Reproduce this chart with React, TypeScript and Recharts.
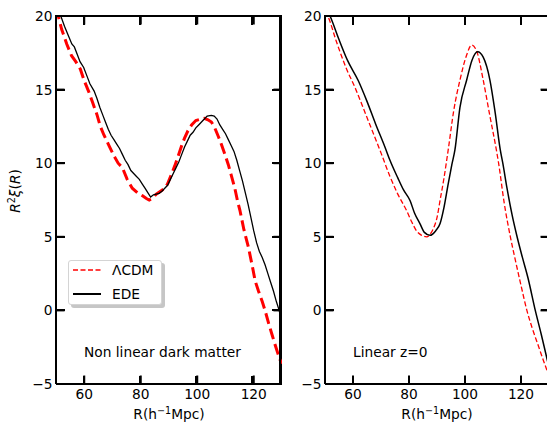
import React from "react";
import { LineChart, Line, XAxis, YAxis, Legend, Label, ReferenceLine } from "recharts";

type Pt = { x: number; y: number };

const xTicks = [60, 80, 100, 120];
const yTicks = [-5, 0, 5, 10, 15, 20];
const xDomain = [50, 130];
const yDomain = [-5, 20];
const seriesOrder = ["\u039bCDM", "EDE"];

// non linear dark matter panel
const nlEdeX = [50, 51.7, 53, 54.5, 55.6, 56.5, 57.5, 58.5, 59.8, 60.8, 62, 63.5, 64.5, 65.5, 66.5, 67.5, 68.5, 69.5, 70.5, 71.5, 72.5, 73.5, 74.5, 75.5, 76.5, 77.5, 78.5, 79.5, 80.5, 81.5, 82.5, 83.5, 84.5, 85.5, 86.5, 87.5, 88.5, 89.5, 90.5, 91.5, 92.5, 93.5, 94.5, 95.5, 96.5, 97.5, 98.5, 99.5, 100.5, 101.5, 102.5, 103.5, 105, 106, 107, 108, 109, 110, 111, 112, 113, 114, 115, 116, 117, 118, 119, 120, 121, 122, 123, 124, 125, 126, 127, 128, 129, 130];
const nlEdeY = [21.0, 20.0, 19.3, 18.6, 18.1, 17.9, 17.4, 16.9, 16.5, 16.0, 15.4, 14.9, 14.4, 13.8, 13.3, 12.8, 12.3, 11.9, 11.6, 11.3, 11.0, 10.6, 10.2, 9.9, 9.5, 9.3, 9.1, 8.9, 8.6, 8.3, 8.0, 7.7, 7.85, 7.9, 7.95, 8.1, 8.3, 8.5, 8.9, 9.3, 9.7, 10.1, 10.6, 11.1, 11.5, 11.9, 12.1, 12.4, 12.6, 12.8, 13.0, 13.2, 13.25, 13.2, 13.0, 12.6, 12.3, 12.0, 11.6, 11.2, 10.8, 10.2, 9.5, 8.8, 8.0, 7.2, 6.3, 5.4, 4.6, 4.0, 3.6, 3.1, 2.5, 1.9, 1.3, 0.6, 0.0, -0.9];

const nlLcdmX = [50, 50.8, 52, 53.8, 55.5, 57, 58.6, 60, 61.5, 63, 64.5, 65.7, 67, 68.5, 70.5, 72, 73.5, 75.2, 77, 78.8, 80.5, 82, 83, 84, 85.5, 87, 88.5, 89.5, 91, 92, 93.1, 94.5, 95.5, 96.7, 98, 99.5, 101.4, 102.5, 103.8, 105, 106.2, 107.5, 108.5, 109.8, 111, 112, 113.3, 114.3, 115.1, 116.5, 118.1, 119.5, 120.5, 121.7, 123, 124, 125.3, 126.4, 127.5, 128.5, 129.4, 130];
const nlLcdmY = [20.5, 20.0, 19.1, 18.1, 17.3, 16.9, 16.4, 15.6, 14.9, 14.1, 13.3, 12.5, 11.9, 11.3, 10.5, 10.0, 9.7, 8.9, 8.3, 8.0, 7.8, 7.6, 7.5, 7.6, 7.9, 8.1, 8.3, 8.6, 9.3, 9.8, 10.4, 11.2, 11.7, 12.2, 12.6, 12.9, 13.0, 13.05, 12.95, 12.8, 12.4, 11.8, 11.3, 10.6, 9.9, 9.2, 8.3, 7.4, 6.8, 5.5, 4.3, 3.0, 2.0, 1.3, 0.6, 0.0, -0.9, -1.6, -2.3, -2.9, -3.4, -3.6];

// linear z=0 panel
const linEdeX = [50, 51.8, 55, 58, 61.9, 65, 68, 71.4, 73.2, 76, 78, 80.4, 82, 83.9, 85.5, 87.5, 89.5, 91.1, 92.5, 94, 95.3, 96.4, 98.2, 100.6, 102.5, 104.5, 106.5, 108.9, 110.8, 112.6, 113.5, 115, 116.8, 118.6, 120.5, 122.5, 125.1, 127.2, 129.3, 130];
const linEdeY = [20.7, 20.0, 18.4, 17.0, 15.6, 14.2, 12.7, 11.1, 10.2, 9.0, 8.2, 7.45, 6.6, 5.9, 5.3, 5.1, 5.4, 5.9, 7.0, 8.6, 9.9, 10.9, 13.8, 15.65, 17.0, 17.57, 17.2, 15.65, 13.4, 10.9, 10.0, 8.3, 6.5, 5.0, 3.6, 2.2, 0.0, -1.6, -3.3, -3.85];

const linLcdmX = [50, 51.2, 54, 57.7, 60.7, 64.9, 70.2, 73.2, 76, 79.2, 81, 82.7, 84.5, 86.3, 88, 88.7, 90, 91.1, 92.5, 94, 96, 98.2, 100.5, 102.4, 104.2, 106.5, 108.8, 111.2, 112, 114, 116.2, 118, 120, 122.1, 124, 126, 128, 129.3, 130];
const linLcdmY = [20.3, 19.9, 18.3, 16.4, 15.15, 13.15, 10.6, 9.1, 7.9, 6.76, 6.0, 5.4, 5.1, 5.0, 5.3, 5.56, 6.3, 7.48, 9.0, 10.9, 13.6, 15.65, 17.3, 18.03, 17.6, 15.65, 13.3, 10.9, 10.0, 7.3, 5.0, 3.4, 1.7, 0.0, -1.2, -2.3, -3.4, -4.08, -4.45];

const toPts = (xs: number[], ys: number[]): Pt[] => xs.map((x, i) => ({ x, y: ys[i] }));

const fmt = (v: number) => (v < 0 ? "\u2212" + Math.abs(v) : String(v));

const AX = "#000";
const FS = 13.75;
const PLOT_TOP = 16;
const PLOT_W = 224;
const PLOT_H = 368;
const Y_AXIS_W = 56;
const TICK_PX = 8.5;
const FRAME_W = 2;
const panelLefts = [0, 269];
// inward tick length in axis units
const tickDx = (TICK_PX * (xDomain[1] - xDomain[0])) / PLOT_W;
const tickDy = (TICK_PX * (yDomain[1] - yDomain[0])) / PLOT_H;

const bottomTick = ({ x, y, payload }: any) => (
  <text x={x} y={y + 15} textAnchor="middle" fontSize={FS} fill="#000">
    {fmt(payload.value)}
  </text>
);

const leftTick = ({ x, y, payload }: any) => (
  <text x={x - 3.5} y={y} dy={5} textAnchor="end" fontSize={FS} fill="#000">
    {fmt(payload.value)}
  </text>
);

function XLabel({ viewBox }: any) {
  const cx = viewBox.x + viewBox.width / 2;
  const cy = viewBox.y + 35;
  return (
    <text x={cx} y={cy} textAnchor="middle" fontSize={FS} fill="#000">
      R(h<tspan dy={-5.5} fontSize={9.6}>{"\u22121"}</tspan>
      <tspan dy={5.5}>Mpc)</tspan>
    </text>
  );
}

function YLabel({ viewBox }: any) {
  const cx = viewBox.x + 20;
  const cy = viewBox.y + viewBox.height / 2 - 9;
  return (
    <text
      x={cx}
      y={cy}
      textAnchor="middle"
      fontSize={FS}
      fill="#000"
      transform={`rotate(-90, ${cx}, ${cy})`}
    >
      <tspan fontStyle="italic">R</tspan>
      <tspan dy={-5.5} fontSize={9.6}>2</tspan>
      <tspan dy={5.5} fontStyle="italic">{"\u03be"}</tspan>
      <tspan>(</tspan>
      <tspan fontStyle="italic">R</tspan>
      <tspan>)</tspan>
    </text>
  );
}

const legendStyle: Record<string, { dash?: string; width: number }> = {
  "\u039bCDM": { dash: "5 2.5", width: 1.5 },
  EDE: { width: 2 },
};

function LegendBox({ payload }: any) {
  const items = [...(payload || [])].sort(
    (a: any, b: any) => seriesOrder.indexOf(a.value) - seriesOrder.indexOf(b.value)
  );
  return (
    <div
      style={{
        width: 94,
        height: 45,
        boxSizing: "border-box",
        border: "1px solid #d4d4d4",
        borderRadius: 3,
        background: "#fff",
        boxShadow: "3px 3px 0 #c6c6c6",
      }}
    >
      <svg width={92} height={43} style={{ display: "block" }}>
        {items.map((e: any, i: number) => {
          const st = legendStyle[e.value] || { width: 1.5 };
          const y = 9 + 24 * i;
          return (
            <g key={e.value}>
              <line x1={4} x2={32} y1={y} y2={y} stroke={e.color} strokeWidth={st.width} strokeDasharray={st.dash} />
              <text x={43} y={y + 5} fontSize={FS} fill="#000">
                {e.value}
              </text>
            </g>
          );
        })}
      </svg>
    </div>
  );
}

// inward ticks on all four sides plus top/right frame, as reference segments
function frameMarks() {
  const segs: any[] = [
    [{ x: xDomain[0], y: yDomain[1] }, { x: xDomain[1], y: yDomain[1] }],
    [{ x: xDomain[1], y: yDomain[0] }, { x: xDomain[1], y: yDomain[1] }],
  ];
  xTicks.forEach((t) => {
    segs.push([{ x: t, y: yDomain[0] }, { x: t, y: yDomain[0] + tickDy }]);
    segs.push([{ x: t, y: yDomain[1] }, { x: t, y: yDomain[1] - tickDy }]);
  });
  yTicks.forEach((t) => {
    segs.push([{ x: xDomain[0], y: t }, { x: xDomain[0] + tickDx, y: t }]);
    segs.push([{ x: xDomain[1], y: t }, { x: xDomain[1] - tickDx, y: t }]);
  });
  return segs.map((s, i) => (
    <ReferenceLine
      key={"tk" + i}
      xAxisId="b"
      yAxisId="l"
      segment={s}
      stroke={AX}
      strokeWidth={FRAME_W}
      ifOverflow="visible"
    />
  ));
}

// frame and ticks again as plain boxes laid over both panels
function FrameBoxes() {
  const sx = (v: number) => ((v - xDomain[0]) / (xDomain[1] - xDomain[0])) * PLOT_W;
  const sy = (v: number) => PLOT_TOP + ((yDomain[1] - v) / (yDomain[1] - yDomain[0])) * PLOT_H;
  const bottom = PLOT_TOP + PLOT_H;
  const box = (key: string, left: number, top: number, w: number, h: number) => (
    <div key={key} style={{ position: "absolute", left, top, width: w, height: h, background: AX }} />
  );
  const out: any[] = [];
  panelLefts.forEach((pl) => {
    const x0 = pl + Y_AXIS_W;
    const x1 = x0 + PLOT_W;
    out.push(box(`t${pl}`, x0 - 1, PLOT_TOP - 1, PLOT_W + 2, FRAME_W));
    out.push(box(`r${pl}`, x1 - 1, PLOT_TOP - 1, FRAME_W, PLOT_H + 2));
    xTicks.forEach((t) => {
      out.push(box(`xb${pl}${t}`, x0 + sx(t) - 1, bottom - TICK_PX, FRAME_W, TICK_PX));
      out.push(box(`xt${pl}${t}`, x0 + sx(t) - 1, PLOT_TOP, FRAME_W, TICK_PX));
    });
    yTicks.forEach((t) => {
      out.push(box(`yl${pl}${t}`, x0, sy(t) - 1, TICK_PX, FRAME_W));
      out.push(box(`yr${pl}${t}`, x1 - TICK_PX, sy(t) - 1, TICK_PX, FRAME_W));
    });
  });
  return <div style={{ position: "absolute", left: 0, top: 0, zIndex: 5 }}>{out}</div>;
}

function Panel({
  left,
  width,
  ede,
  lcdm,
  redWidth,
  redDash,
  blackWidth,
  lineType,
  showYLabel,
  showLegend,
}: any) {
  return (
    <div style={{ position: "absolute", left, top: 0 }}>
      <LineChart width={width} height={423} margin={{ top: PLOT_TOP, right: 0, bottom: 0, left: 0 }}>
        <XAxis
          xAxisId="b"
          type="number"
          dataKey="x"
          domain={xDomain}
          allowDataOverflow
          ticks={xTicks}
          interval={0}
          height={423 - PLOT_TOP - PLOT_H}
          tickSize={0}
          tickMargin={0}
          tickLine={false}
          axisLine={{ stroke: AX, strokeWidth: FRAME_W }}
          tick={bottomTick}
        >
          <Label content={<XLabel />} />
        </XAxis>
        <YAxis
          yAxisId="l"
          type="number"
          domain={yDomain}
          allowDataOverflow
          ticks={yTicks}
          interval={0}
          width={Y_AXIS_W}
          tickSize={0}
          tickMargin={0}
          tickLine={false}
          axisLine={{ stroke: AX, strokeWidth: FRAME_W }}
          tick={leftTick}
        >
          {showYLabel ? <Label content={<YLabel />} /> : null}
        </YAxis>
        {frameMarks()}
        <Line
          xAxisId="b"
          yAxisId="l"
          data={lcdm}
          dataKey="y"
          name={"\u039bCDM"}
          type={lineType}
          stroke="#ff0000"
          strokeWidth={redWidth}
          strokeDasharray={redDash}
          dot={false}
          activeDot={false}
          isAnimationActive={false}
        />
        <Line
          xAxisId="b"
          yAxisId="l"
          data={ede}
          dataKey="y"
          name="EDE"
          type={lineType}
          stroke="#000000"
          strokeWidth={blackWidth}
          dot={false}
          activeDot={false}
          isAnimationActive={false}
        />
        {showLegend ? (
          <Legend
            layout="vertical"
            align="center"
            verticalAlign="middle"
            content={<LegendBox />}
            wrapperStyle={{ left: 68, top: 260, width: 100, height: 50 }}
          />
        ) : null}
      </LineChart>
    </div>
  );
}

export default function App() {
  return (
    <div
      style={{
        position: "absolute",
        left: 0,
        top: 0,
        width: 547,
        height: 423,
        overflow: "hidden",
        background: "#fff",
        fontFamily: "'DejaVu Sans', sans-serif",
      }}
    >
      <Panel
        left={panelLefts[0]}
        width={Y_AXIS_W + PLOT_W + 2}
        ede={toPts(nlEdeX, nlEdeY)}
        lcdm={toPts(nlLcdmX, nlLcdmY)}
        redWidth={3}
        redDash="11 5"
        blackWidth={1.3}
        lineType="linear"
        showYLabel
        showLegend
      />
      <Panel
        left={panelLefts[1]}
        width={Y_AXIS_W + PLOT_W}
        ede={toPts(linEdeX, linEdeY)}
        lcdm={toPts(linLcdmX, linLcdmY)}
        redWidth={1.3}
        redDash="5 2.5"
        blackWidth={1.5}
        lineType="monotone"
      />
      <FrameBoxes />
      <div style={{ position: "absolute", left: 84, top: 344, fontSize: FS, lineHeight: "16px", whiteSpace: "nowrap", zIndex: 6 }}>
        Non linear dark matter
      </div>
      <div style={{ position: "absolute", left: 353, top: 344, fontSize: FS, lineHeight: "16px", whiteSpace: "nowrap", zIndex: 6 }}>
        Linear z=0
      </div>
    </div>
  );
}
